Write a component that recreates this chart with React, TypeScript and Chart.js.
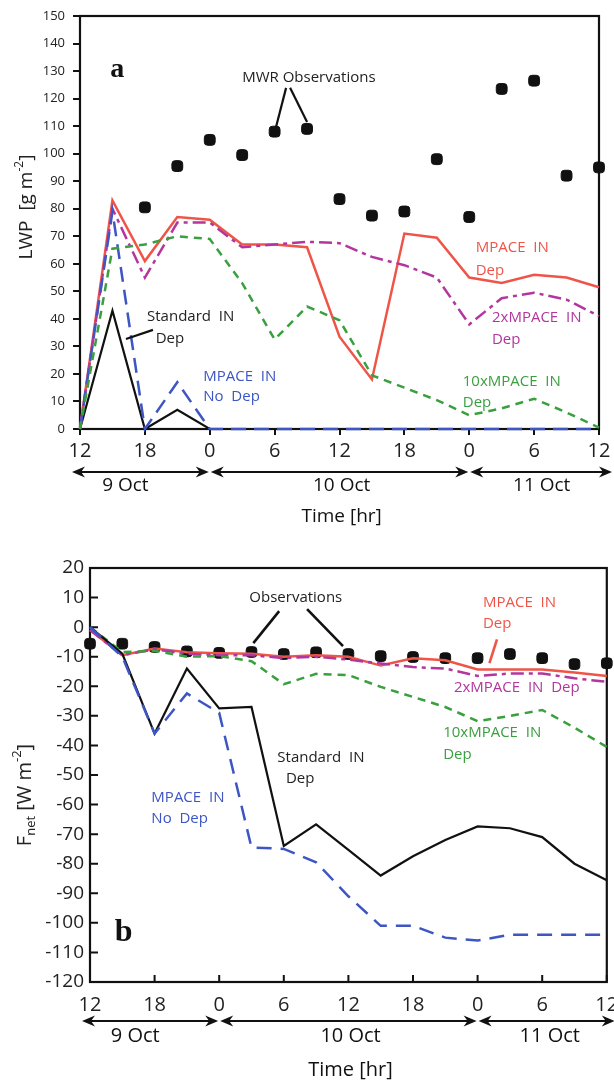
import React, { useEffect, useRef } from 'react';
import { Chart, registerables } from 'chart.js';
Chart.register(...registerables);

const FONT = '"Open Sans", "Noto Sans", sans-serif';
const SERIF = '"Liberation Serif", "DejaVu Serif", serif';

// ---------- shared time axis (hours since 9 Oct 00 UTC) ----------
const hours = [12, 15, 18, 21, 24, 27, 30, 33, 36, 39, 42, 45, 48, 51, 54, 57, 60];
const dayNames = ['9 Oct', '10 Oct', '11 Oct'];
const dayBounds = [12, 24, 48, 60];
const dayLabelHours = [16.2, 36.2, 54.7];

// ---------- panel a : LWP [g m-2] ----------
const lwpObsHours = [18, 21, 24, 27, 30, 33, 36, 39, 42, 45, 48, 51, 54, 57, 60];
const lwpObs = [80.5, 95.5, 105, 99.5, 108, 109, 83.5, 77.5, 79, 98, 77, 123.5, 126.5, 92, 95];
const lwpMpaceDep = [0, 83, 61, 77, 76, 67, 67, 66, 33.5, 18, 71, 69.5, 55, 53, 56, 55, 51.5];
const lwp2xMpaceDep = [0, 80, 55, 75, 75, 66, 67, 68, 67.5, 62.5, 59.5, 55, 38, 47.5, 49.5, 47, 41];
const lwp10xMpaceDep = [0, 65.5, 67, 70, 69, 53, 32.5, 44.5, 39.5, 19.5, 15, 10.5, 5, 7.5, 11, 6, 0.5];
const lwpMpaceNoDep = [0, 79, 0, 17, 0, 0, 0, 0, 0, 0, 0, 0, 0, 0, 0, 0, 0];
const lwpStandardDep = [0, 43, 0, 7, 0, 0, 0, 0, 0, 0, 0, 0, 0, 0, 0, 0, 0];

// ---------- panel b : F_net [W m-2] ----------
const fnetObs = [-5.6, -5.6, -6.7, -8.2, -8.7, -8.4, -9.1, -8.5, -9.1, -9.8, -10.1, -10.5, -10.5, -9.1, -10.5, -12.5, -12.2];
const fnetMpaceDep = [-1, -9.5, -7.2, -8.5, -8.8, -9, -10, -9.5, -10, -13, -10.5, -11.2, -14.3, -14.3, -14.3, -15.3, -16.5];
const fnet2xMpaceDep = [-1, -9.5, -7.5, -9, -9.5, -9.5, -10.5, -10, -11, -12.3, -13.5, -14, -16.5, -15.7, -15.7, -17.3, -18.5];
const fnet10xMpaceDep = [0, -8.4, -8, -10, -9.8, -11.5, -19.3, -15.8, -16.2, -20.2, -23.6, -27, -31.8, -30, -28, -34, -40.5];
const fnetStandardDep = [0, -9, -36, -14, -27.5, -27, -74, -66.7, -75.3, -84, -77.5, -72, -67.4, -68, -71, -80, -85.6];
const fnetMpaceNoDep = [0, -10, -36, -22.4, -29, -74.5, -75, -79.5, -91, -101, -101, -105, -106, -104, -104, -104, -104];

const RED = '#ee5548';
const MAGENTA = '#b2369e';
const GREEN = '#3a9f3e';
const BLUE = '#3d56c4';
const BLACK = '#111111';

function pts(xs: number[], ys: number[]) {
  return xs.map((x, i) => ({ x, y: ys[i] }));
}

function lineDs(label: string, ys: number[], color: string, dash: number[], width: number) {
  return {
    label,
    data: pts(hours, ys),
    borderColor: color,
    backgroundColor: color,
    borderWidth: width,
    borderDash: dash,
    pointRadius: 0,
    fill: false,
    tension: 0,
    clip: false as any,
  };
}

function obsDs(label: string, xs: number[], ys: number[], r: number) {
  return {
    label,
    data: pts(xs, ys),
    showLine: false,
    pointStyle: 'rectRounded',
    pointRadius: r,
    pointBackgroundColor: BLACK,
    pointBorderColor: BLACK,
    borderColor: BLACK,
    backgroundColor: BLACK,
    clip: false as any,
  };
}

type Txt = { t: string; h: number; v: number; color: string; size: number; font?: string; bold?: boolean };
type Seg = { h1: number; v1: number; h2: number; v2: number; color: string; w: number };
type Part = { t: string; s: number; dy: number };
type DecorCfg = {
  name: string;
  texts: Txt[];
  segs: Seg[];
  inwardTicks: boolean;
  arrowDy: number;
  dayDy: number;
  timeDy: number;
  daySize: number;
  timeSize: number;
  arrowExtL: number;
  arrowExtR: number;
  titleX: number;
  titleY: number;
  title: Part[];
};

function arrowHead(ctx: CanvasRenderingContext2D, x: number, y: number, dir: number) {
  ctx.beginPath();
  ctx.moveTo(x, y);
  ctx.lineTo(x - dir * 13, y - 5.5);
  ctx.lineTo(x - dir * 9, y);
  ctx.lineTo(x - dir * 13, y + 5.5);
  ctx.closePath();
  ctx.fill();
}

function makeDecor(d: DecorCfg) {
  return {
    id: 'decor-' + d.name,
    beforeDatasetsDraw(chart: any) {
      const { ctx, chartArea: a } = chart;
      ctx.save();
      ctx.strokeStyle = BLACK;
      ctx.lineWidth = 2.2;
      ctx.strokeRect(a.left, a.top, a.right - a.left, a.bottom - a.top);
      if (d.inwardTicks) {
        const xs = chart.scales.x;
        const ys = chart.scales.y;
        ctx.lineWidth = 2;
        ctx.beginPath();
        xs.ticks.forEach((t: any) => {
          const px = xs.getPixelForValue(t.value);
          ctx.moveTo(px, a.bottom);
          ctx.lineTo(px, a.bottom - 7);
        });
        ys.ticks.forEach((t: any) => {
          const py = ys.getPixelForValue(t.value);
          ctx.moveTo(a.left, py);
          ctx.lineTo(a.left + 8, py);
        });
        ctx.stroke();
      }
      ctx.restore();
    },
    afterDraw(chart: any) {
      const { ctx, chartArea: a } = chart;
      const xs = chart.scales.x;
      const ys = chart.scales.y;
      ctx.save();
      // leader lines
      d.segs.forEach((s) => {
        ctx.strokeStyle = s.color;
        ctx.lineWidth = s.w;
        ctx.beginPath();
        ctx.moveTo(xs.getPixelForValue(s.h1), ys.getPixelForValue(s.v1));
        ctx.lineTo(xs.getPixelForValue(s.h2), ys.getPixelForValue(s.v2));
        ctx.stroke();
      });
      // annotation texts
      ctx.textAlign = 'left';
      ctx.textBaseline = 'middle';
      d.texts.forEach((t) => {
        ctx.fillStyle = t.color;
        ctx.font = `${t.bold ? 'bold ' : ''}${t.size}px ${t.font || FONT}`;
        ctx.fillText(t.t, xs.getPixelForValue(t.h), ys.getPixelForValue(t.v));
      });
      // date arrows
      ctx.fillStyle = BLACK;
      ctx.strokeStyle = BLACK;
      ctx.lineWidth = 2;
      const ay = a.bottom + d.arrowDy;
      for (let i = 0; i < 3; i++) {
        let x1 = xs.getPixelForValue(dayBounds[i]);
        let x2 = xs.getPixelForValue(dayBounds[i + 1]);
        x1 = i === 0 ? x1 - d.arrowExtL : x1 + 1;
        x2 = i === 2 ? x2 + d.arrowExtR : x2 - 1;
        ctx.beginPath();
        ctx.moveTo(x1 + 6, ay);
        ctx.lineTo(x2 - 6, ay);
        ctx.stroke();
        arrowHead(ctx, x1, ay, -1);
        arrowHead(ctx, x2, ay, 1);
      }
      ctx.textAlign = 'center';
      ctx.font = `${d.daySize}px ${FONT}`;
      dayNames.forEach((n, i) => {
        ctx.fillText(n, xs.getPixelForValue(dayLabelHours[i]), a.bottom + d.dayDy);
      });
      ctx.font = `${d.timeSize}px ${FONT}`;
      ctx.fillText('Time [hr]', xs.getPixelForValue(36.2), a.bottom + d.timeDy);
      // rotated y title
      let total = 0;
      const widths = d.title.map((p) => {
        ctx.font = `${p.s}px ${FONT}`;
        const w = ctx.measureText(p.t).width;
        total += w;
        return w;
      });
      ctx.translate(d.titleX, d.titleY);
      ctx.rotate(-Math.PI / 2);
      ctx.textAlign = 'left';
      ctx.textBaseline = 'middle';
      ctx.fillStyle = '#222';
      let x = -total / 2;
      d.title.forEach((p, i) => {
        ctx.font = `${p.s}px ${FONT}`;
        ctx.fillText(p.t, x, p.dy);
        x += widths[i];
      });
      ctx.restore();
    },
  };
}

function fixY(width: number) {
  return (s: any) => {
    s.width = width;
    s.paddingTop = 0;
    s.paddingBottom = 0;
  };
}
function fixX(height: number) {
  return (s: any) => {
    s.height = height;
    s.paddingLeft = 0;
    s.paddingRight = 0;
  };
}

const hourLabel = (v: any) => String(Number(v) % 24);

function buildA(canvas: HTMLCanvasElement) {
  const decor = makeDecor({
    name: 'a',
    inwardTicks: false,
    arrowDy: 43,
    dayDy: 57,
    timeDy: 88,
    daySize: 19,
    timeSize: 19,
    arrowExtL: 8,
    arrowExtR: 13,
    titleX: 27,
    titleY: 207,
    title: [
      { t: 'LWP  [g m', s: 19, dy: 0 },
      { t: '-2', s: 12, dy: -7 },
      { t: ']', s: 19, dy: 0 },
    ],
    texts: [
      { t: 'a', h: 14.8, v: 130.4, color: BLACK, size: 28, font: SERIF, bold: true },
      { t: 'MWR Observations', h: 27.0, v: 127.5, color: '#222', size: 15 },
      { t: 'MPACE  IN', h: 48.6, v: 65.7, color: RED, size: 15 },
      { t: 'Dep', h: 48.6, v: 57.4, color: RED, size: 15 },
      { t: '2xMPACE  IN', h: 50.1, v: 40.3, color: MAGENTA, size: 15 },
      { t: 'Dep', h: 50.1, v: 32.3, color: MAGENTA, size: 15 },
      { t: '10xMPACE  IN', h: 47.4, v: 17.1, color: GREEN, size: 15 },
      { t: 'Dep', h: 47.4, v: 9.4, color: GREEN, size: 15 },
      { t: 'Standard  IN', h: 18.2, v: 40.7, color: '#222', size: 15 },
      { t: 'Dep', h: 19.0, v: 32.7, color: '#222', size: 15 },
      { t: 'MPACE  IN', h: 23.4, v: 18.9, color: BLUE, size: 15 },
      { t: 'No  Dep', h: 23.4, v: 11.6, color: BLUE, size: 15 },
    ],
    segs: [
      { h1: 31.06, v1: 123.9, h2: 30.13, v2: 109.7, color: BLACK, w: 2.2 },
      { h1: 31.43, v1: 123.9, h2: 33.0, v2: 111.5, color: BLACK, w: 2.2 },
      { h1: 16.25, v1: 32.7, h2: 18.75, v2: 36.0, color: BLACK, w: 2.2 },
    ],
  });
  return new Chart(canvas, {
    type: 'line',
    data: {
      datasets: [
        lineDs('10xMPACE IN Dep', lwp10xMpaceDep, GREEN, [8, 6], 2.5),
        lineDs('MPACE IN No Dep', lwpMpaceNoDep, BLUE, [15, 8], 2.5),
        lineDs('2xMPACE IN Dep', lwp2xMpaceDep, MAGENTA, [13, 5, 4, 5], 2.5),
        lineDs('Standard IN Dep', lwpStandardDep, BLACK, [], 2.2),
        lineDs('MPACE IN Dep', lwpMpaceDep, RED, [], 2.5),
        obsDs('MWR Observations', lwpObsHours, lwpObs, 6.3),
      ] as any,
    },
    options: {
      animation: false,
      responsive: false,
      events: [],
      layout: { padding: { top: 16, right: 15, bottom: 0, left: 0 } },
      plugins: { legend: { display: false }, tooltip: { enabled: false } },
      scales: {
        x: {
          type: 'linear',
          min: 12,
          max: 60,
          afterFit: fixX(116),
          border: { display: false },
          grid: { drawOnChartArea: false, drawTicks: true, tickLength: 6, color: BLACK, lineWidth: 2 },
          ticks: {
            stepSize: 6,
            autoSkip: false,
            maxRotation: 0,
            padding: 4,
            color: '#222',
            font: { family: FONT, size: 20 },
            callback: hourLabel,
          },
        },
        y: {
          type: 'linear',
          min: 0,
          max: 150,
          afterFit: fixY(80),
          border: { display: false },
          grid: { drawOnChartArea: false, drawTicks: true, tickLength: 7, color: BLACK, lineWidth: 2 },
          ticks: { stepSize: 10, autoSkip: false, padding: 8, color: '#222', font: { family: FONT, size: 13 } },
        },
      },
    } as any,
    plugins: [decor],
  });
}

function buildB(canvas: HTMLCanvasElement) {
  const decor = makeDecor({
    name: 'b',
    inwardTicks: true,
    arrowDy: 39,
    dayDy: 54,
    timeDy: 88,
    daySize: 20,
    timeSize: 20,
    arrowExtL: 8,
    arrowExtR: 8,
    titleX: 25,
    titleY: 250,
    title: [
      { t: 'F', s: 20, dy: 0 },
      { t: 'net', s: 13, dy: 6 },
      { t: ' [W m', s: 20, dy: 0 },
      { t: '-2', s: 13, dy: -8 },
      { t: ']', s: 20, dy: 0 },
    ],
    texts: [
      { t: 'b', h: 14.3, v: -103.4, color: BLACK, size: 32, font: SERIF, bold: true },
      { t: 'Observations', h: 26.8, v: 9.8, color: '#222', size: 15 },
      { t: 'MPACE  IN', h: 48.5, v: 8.1, color: RED, size: 15 },
      { t: 'Dep', h: 48.5, v: 1.0, color: RED, size: 15 },
      { t: '2xMPACE  IN  Dep', h: 45.8, v: -20.6, color: MAGENTA, size: 15 },
      { t: '10xMPACE  IN', h: 44.8, v: -35.8, color: GREEN, size: 15 },
      { t: 'Dep', h: 44.8, v: -43.3, color: GREEN, size: 15 },
      { t: 'Standard  IN', h: 29.4, v: -44, color: '#222', size: 15 },
      { t: 'Dep', h: 30.2, v: -51.4, color: '#222', size: 15 },
      { t: 'MPACE  IN', h: 17.7, v: -57.8, color: BLUE, size: 15 },
      { t: 'No  Dep', h: 17.7, v: -64.9, color: BLUE, size: 15 },
    ],
    segs: [
      { h1: 27.17, v1: -5.4, h2: 29.57, v2: 5.4, color: BLACK, w: 2.6 },
      { h1: 32.16, v1: 6.1, h2: 35.5, v2: -6.4, color: BLACK, w: 2.6 },
      { h1: 49.8, v1: -4.1, h2: 49.1, v2: -12.2, color: RED, w: 2.6 },
    ],
  });
  return new Chart(canvas, {
    type: 'line',
    data: {
      datasets: [
        lineDs('MPACE IN No Dep', fnetMpaceNoDep, BLUE, [15, 9], 2.5),
        lineDs('Standard IN Dep', fnetStandardDep, BLACK, [], 2.2),
        lineDs('10xMPACE IN Dep', fnet10xMpaceDep, GREEN, [8, 6], 2.5),
        lineDs('2xMPACE IN Dep', fnet2xMpaceDep, MAGENTA, [13, 5, 4, 5], 2.5),
        lineDs('MPACE IN Dep', fnetMpaceDep, RED, [], 2.5),
        obsDs('Observations', hours, fnetObs, 6.2),
      ] as any,
    },
    options: {
      animation: false,
      responsive: false,
      events: [],
      layout: { padding: { top: 23, right: 6, bottom: 0, left: 0 } },
      plugins: { legend: { display: false }, tooltip: { enabled: false } },
      scales: {
        x: {
          type: 'linear',
          min: 12,
          max: 60,
          afterFit: fixX(99),
          border: { display: false },
          grid: { display: false, drawTicks: false },
          ticks: {
            stepSize: 6,
            autoSkip: false,
            maxRotation: 0,
            padding: 11,
            color: '#222',
            font: { family: FONT, size: 20 },
            callback: hourLabel,
          },
        },
        y: {
          type: 'linear',
          min: -120,
          max: 20,
          afterFit: fixY(90),
          border: { display: false },
          grid: { display: false, drawTicks: false },
          ticks: { stepSize: 10, autoSkip: false, padding: 6, color: '#222', font: { family: FONT, size: 19 } },
        },
      },
    } as any,
    plugins: [decor],
  });
}

export default function App() {
  const refA = useRef<HTMLCanvasElement>(null);
  const refB = useRef<HTMLCanvasElement>(null);
  useEffect(() => {
    Chart.defaults.font.family = FONT;
    const ca = buildA(refA.current!);
    const cb = buildB(refB.current!);
    return () => {
      ca.destroy();
      cb.destroy();
    };
  }, []);
  return (
    <div style={{ position: 'absolute', left: 0, top: 0, width: 614, height: 1081, background: '#fff', overflow: 'hidden' }}>
      <canvas ref={refA} width={614} height={545} style={{ position: 'absolute', left: 0, top: 0, display: 'block' }} />
      <canvas ref={refB} width={614} height={536} style={{ position: 'absolute', left: 0, top: 545, display: 'block' }} />
    </div>
  );
}
